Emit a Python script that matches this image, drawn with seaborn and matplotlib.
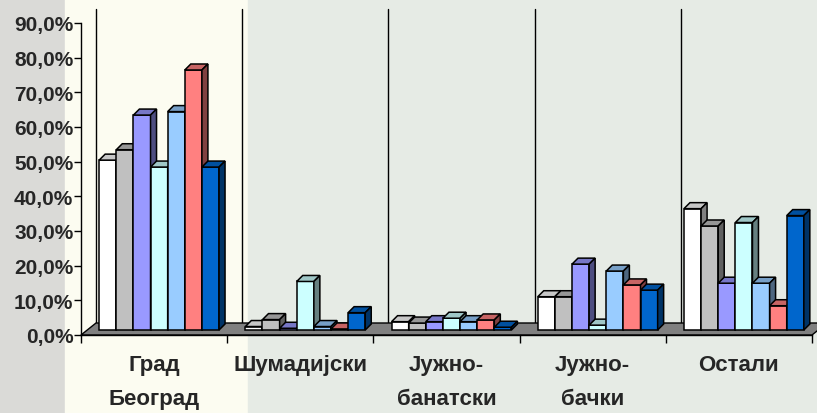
import numpy as np
import pandas as pd
import matplotlib
matplotlib.use("Agg")
import matplotlib.pyplot as plt
from matplotlib.patches import Polygon, Rectangle
from matplotlib.lines import Line2D
from matplotlib.transforms import offset_copy, IdentityTransform
import seaborn as sns

# === DONNÉES ===
regions = ["Град\nБеоград", "Шумадијски", "Јужно-\nбанатски", "Јужно-\nбачки", "Остали"]
series = ["Серија 1", "Серија 2", "Серија 3", "Серија 4", "Серија 5", "Серија 6", "Серија 7"]
serie_1 = [49.0, 1.0, 2.4, 9.6, 35.0]
serie_2 = [52.0, 3.0, 2.0, 9.6, 30.0]
serie_3 = [62.0, 0.5, 2.4, 19.0, 13.5]
serie_4 = [47.0, 14.0, 3.4, 1.4, 31.0]
serie_5 = [63.0, 1.0, 2.4, 17.0, 13.5]
serie_6 = [75.0, 0.3, 2.9, 13.0, 7.0]
serie_7 = [47.0, 5.0, 0.8, 11.5, 33.0]
couleurs = ["#FFFFFF", "#C0C0C0", "#9999FF", "#CCFFFF", "#99CCFF", "#FF8080", "#0066CC"]
y_ticks = [0, 10, 20, 30, 40, 50, 60, 70, 80, 90]

valeurs = [serie_1, serie_2, serie_3, serie_4, serie_5, serie_6, serie_7]
df = pd.DataFrame(
    [(r, s, v[i]) for s, v in zip(series, valeurs) for i, r in enumerate(regions)],
    columns=["region", "serie", "valeur"],
)

sns.set_style("white")
plt.rcParams["font.family"] = ["Liberation Sans", "DejaVu Sans"]
plt.rcParams["font.weight"] = "bold"

W, H = 817, 414
fig = plt.figure(figsize=(W / 100, H / 100), dpi=100)

# fond de la diapositive
fig.patches.append(Rectangle((0, 0), 65 / W, 1, transform=fig.transFigure, color="#DADAD7", zorder=-10))
fig.patches.append(Rectangle((65 / W, 0), (248 - 65) / W, 1, transform=fig.transFigure, color="#FCFCF1", zorder=-10))
fig.patches.append(Rectangle((248 / W, 0), 1, 1, transform=fig.transFigure, color="#E6EBE5", zorder=-10))

ax = fig.add_axes([81 / W, 78 / H, 731 / W, 312 / H])
ax.patch.set_alpha(0)

sns.barplot(data=df, x="region", y="valeur", hue="serie", palette=couleurs, width=0.82,
            gap=0, saturation=1, errorbar=None, edgecolor="black", linewidth=1.1,
            legend=False, ax=ax)
ax.set_xlim(-0.5, len(regions) - 0.5)
ax.set_ylim(0, 90)

# === EFFET 3D ===
dx, dy = 6, 6          # profondeur des barres (pixels)
bx, by = 15, 12        # profondeur du plancher (pixels)
front = offset_copy(ax.transData, fig=fig, x=5, y=5, units="dots")
ident = IdentityTransform()

(fx0, fy0) = ax.transAxes.transform((0, 0))
(fx1, fy1) = ax.transAxes.transform((1, 1))
ax.add_patch(Polygon([(fx0, fy0), (fx1, fy0), (fx1 + bx, fy0 + by), (fx0 + bx, fy0 + by)],
                     closed=True, transform=ident, facecolor="#808080", edgecolor="black",
                     linewidth=1, zorder=1, clip_on=False))

top_y = ax.transData.transform((0, 90))[1] + 14
for b in np.arange(-0.5, len(regions), 1.0):
    xb = ax.transData.transform((b, 0))[0] + bx
    ax.add_line(Line2D([xb, xb], [fy0 + by, top_y], transform=ident, color="black",
                       linewidth=1, zorder=0.5, clip_on=False))

bars = sorted([p for p in ax.patches if isinstance(p, Rectangle)], key=lambda p: p.get_x())
for i, bar in enumerate(bars):
    bar.set_transform(front)
    bar.set_clip_on(False)
    z = 3 + i * 0.01
    bar.set_zorder(z)
    x0, y0 = bar.get_x(), bar.get_y()
    x1, y1 = x0 + bar.get_width(), y0 + bar.get_height()
    (px0, py0), (px1, py1) = front.transform([(x0, y0), (x1, y1)])
    fc = np.array(bar.get_facecolor()[:3])
    ax.add_patch(Polygon([(px0, py1), (px1, py1), (px1 + dx, py1 + dy), (px0 + dx, py1 + dy)],
                         closed=True, transform=ident, facecolor=fc * 0.78, edgecolor="black",
                         linewidth=1.1, zorder=z, clip_on=False))
    ax.add_patch(Polygon([(px1, py0), (px1 + dx, py0 + dy), (px1 + dx, py1 + dy), (px1, py1)],
                         closed=True, transform=ident, facecolor=fc * 0.5, edgecolor="black",
                         linewidth=1.1, zorder=z, clip_on=False))

# === AXES ===
ax.set_yticks(y_ticks)
ax.set_yticklabels([f"{v:.1f}%".replace(".", ",") for v in y_ticks])
ax.set_xticks(range(len(regions)))
ax.set_xticklabels(regions, linespacing=1.78)
ax.set_xticks(np.arange(-0.5, len(regions), 1.0), minor=True)
ax.tick_params(axis="y", length=5, width=1, direction="out", labelsize=15, pad=0.5, left=True, color="black")
ax.tick_params(axis="x", which="major", length=0, labelsize=16, pad=14)
ax.tick_params(axis="x", which="minor", length=6, width=1, direction="out", bottom=True, color="black")
ax.set_xlabel("")
ax.set_ylabel("")
for side in ["top", "right"]:
    ax.spines[side].set_visible(False)
for side in ["left", "bottom"]:
    ax.spines[side].set_color("black")
    ax.spines[side].set_linewidth(1)
    ax.spines[side].set_zorder(2)

fig.savefig("out.png", dpi=100)
